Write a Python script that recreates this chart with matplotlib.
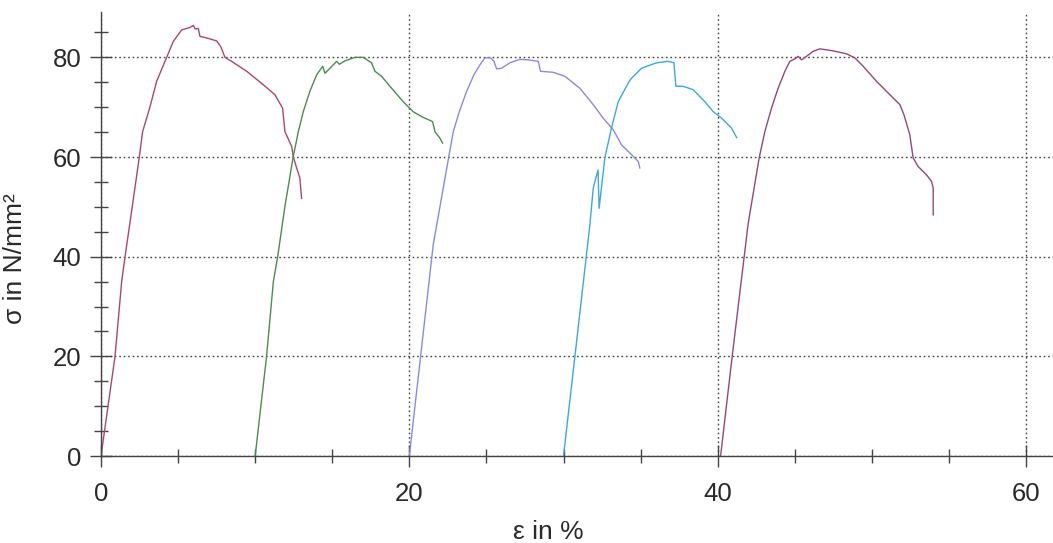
import matplotlib
matplotlib.use("Agg")
import matplotlib.pyplot as plt
from matplotlib.ticker import MultipleLocator

plt.rcParams['font.family'] = ['Liberation Sans', 'DejaVu Sans']

# strain in %, stress in N/mm^2
eps_1 = [0.0, 0.91, 1.34, 1.56, 2.03, 2.49, 2.70, 3.18, 3.61, 4.26, 4.69, 5.23, 5.77, 5.99,
         6.10, 6.31, 6.42, 6.85, 7.50, 7.76, 8.04, 8.47, 9.45, 10.53, 11.28, 11.78, 11.93,
         12.37, 12.47, 12.69, 12.90, 13.01]
sig_1 = [0.0, 20.0, 35.0, 40.0, 50.1, 60.1, 65.1, 70.1, 75.2, 80.0, 83.2, 85.5, 86.0, 86.4,
         85.7, 85.8, 84.2, 83.9, 83.3, 82.2, 80.0, 79.2, 77.2, 74.5, 72.5, 69.8, 65.1,
         62.1, 60.1, 57.8, 55.8, 51.7]

eps_2 = [10.0, 10.74, 11.18, 11.46, 11.93, 12.47, 12.80, 13.12, 13.55, 13.99, 14.38, 14.53,
         14.85, 15.28, 15.46, 15.82, 16.47, 17.01, 17.55, 17.77, 18.20, 18.85, 19.60, 20.25,
         20.80, 21.51, 21.66, 21.98, 22.16]
sig_2 = [0.0, 20.0, 35.0, 40.0, 50.1, 60.1, 65.1, 69.1, 73.2, 76.5, 78.2, 76.8,
         77.8, 79.2, 78.6, 79.3, 80.0, 80.0, 78.9, 77.2, 76.2, 73.8, 71.1, 69.1,
         68.1, 67.1, 65.1, 63.8, 62.8]

eps_3 = [20.0, 20.73, 21.55, 22.56, 22.85, 23.24, 23.72, 24.19, 24.58, 24.90, 25.27, 25.49,
         25.66, 25.98, 26.52, 27.17, 27.71, 28.36, 28.51, 29.33, 30.09, 31.06, 31.93, 32.57,
         33.22, 33.77, 34.31, 34.85, 34.95]
sig_3 = [0.0, 20.0, 42.4, 60.1, 65.1, 69.1, 73.2, 76.5, 78.5, 79.9, 79.9, 79.2,
         77.7, 77.8, 78.9, 79.6, 79.5, 79.2, 77.2, 77.0, 76.2, 73.8, 70.5, 67.8,
         65.5, 62.4, 60.8, 59.1, 57.8]

eps_4 = [30.0, 30.74, 31.71, 31.93, 32.24, 32.31, 32.68, 33.11, 33.55, 34.26, 34.41, 35.06,
         35.39, 36.04, 36.79, 37.16, 37.29, 37.76, 38.41, 39.17, 39.71, 40.25, 40.90, 41.23]
sig_4 = [0.0, 20.0, 46.4, 53.8, 57.4, 49.7, 59.8, 65.8, 71.1, 75.2, 75.8, 77.8,
         78.2, 78.9, 79.2, 78.9, 74.2, 74.2, 73.5, 71.1, 69.1, 67.8, 65.8, 63.9]

eps_5 = [40.19, 40.94, 41.98, 42.69, 43.06, 43.49, 43.92, 44.36, 44.68, 45.01, 45.22, 45.44,
         45.76, 46.19, 46.63, 47.49, 48.36, 48.90, 49.44, 50.30, 51.17, 51.82, 52.08, 52.46,
         52.68, 53.00, 53.55, 53.87, 53.98, 53.98]
sig_5 = [0.0, 20.0, 46.7, 59.8, 65.1, 69.8, 73.8, 77.2, 79.2, 79.7, 80.2, 79.5,
         80.2, 81.2, 81.7, 81.3, 80.7, 79.9, 78.2, 75.2, 72.5, 70.5, 68.5, 64.5,
         59.8, 58.1, 56.4, 55.1, 53.8, 48.4]

curves = [(eps_1, sig_1, '#a84a66'), (eps_2, sig_2, '#4e8a52'), (eps_3, sig_3, '#8a8ae4'),
          (eps_4, sig_4, '#3aaade'), (eps_5, sig_5, '#944874')]

fig = plt.figure(figsize=(10.53, 5.43), dpi=100)
ax = fig.add_axes([101/1053, 87/543, 952/1053, 444/543])

for e, s, c in curves:
    ax.plot(e, s, color=c, lw=1.0)

ax.set_xlim(0, 61.75)
ax.set_ylim(0, 89.1)
ax.xaxis.set_major_locator(MultipleLocator(20))
ax.xaxis.set_minor_locator(MultipleLocator(5))
ax.yaxis.set_major_locator(MultipleLocator(20))
ax.yaxis.set_minor_locator(MultipleLocator(5))

ax.grid(True, which='major', linestyle=(0, (1.2, 2.0)), color='#444444', lw=1.0)

for side in ['top', 'right']:
    ax.spines[side].set_visible(False)
for side in ['left', 'bottom']:
    ax.spines[side].set_color('#444444')
    ax.spines[side].set_linewidth(1.0)

ax.tick_params(axis='both', which='major', direction='inout', length=16, width=1.0,
               color='#444444', labelsize=18.5, labelcolor='#2a2a2a')
ax.tick_params(axis='both', which='minor', direction='inout', length=10, width=1.0,
               color='#444444')
ax.tick_params(axis='x', which='major', pad=11)
ax.tick_params(axis='y', which='major', pad=6)

ax.set_xlabel('ε in %', fontsize=19, color='#2a2a2a')
ax.set_ylabel('σ in N/mm²', fontsize=19, color='#2a2a2a')
ax.xaxis.set_label_coords(0.47, -0.145)
ax.yaxis.set_label_coords(-0.078, 0.445)

fig.savefig('out.png', dpi=100)
